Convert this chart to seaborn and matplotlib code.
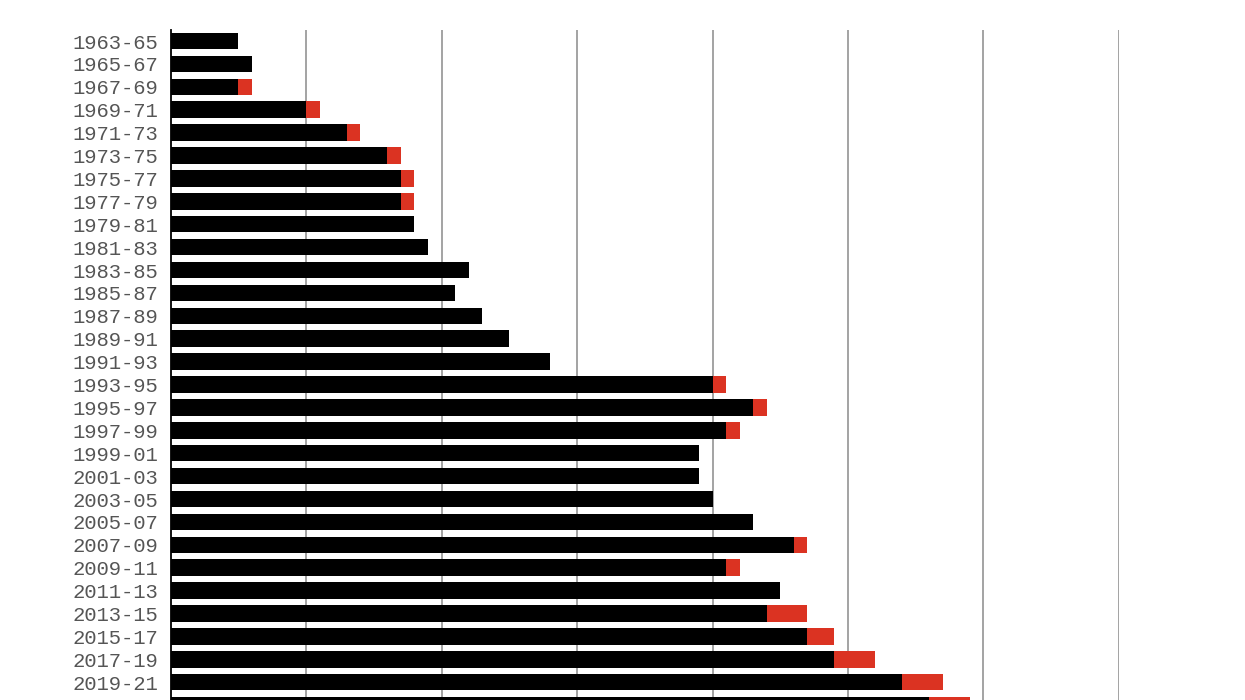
import numpy as np
import pandas as pd
import matplotlib
matplotlib.use("Agg")
import matplotlib.pyplot as plt
import seaborn as sns

# 数据：每两年一段，黑色为主值，红色为附加部分
periods = ["1963-65", "1965-67", "1967-69", "1969-71", "1971-73", "1973-75",
           "1975-77", "1977-79", "1979-81", "1981-83", "1983-85", "1985-87",
           "1987-89", "1989-91", "1991-93", "1993-95", "1995-97", "1997-99",
           "1999-01", "2001-03", "2003-05", "2005-07", "2007-09", "2009-11",
           "2011-13", "2013-15", "2015-17", "2017-19", "2019-21", "2021-23"]
black_vals = [5, 6, 5, 10, 13, 16, 17, 17, 18, 19, 22, 21, 23, 25, 28,
              40, 43, 41, 39, 39, 40, 43, 46, 41, 45, 44, 47, 49, 54, 56]
red_vals = [0, 0, 1, 1, 1, 1, 1, 1, 0, 0, 0, 0, 0, 0, 0,
            1, 1, 1, 0, 0, 0, 0, 1, 1, 0, 3, 2, 3, 3, 3]

df = pd.DataFrame({"period": periods, "black": black_vals, "red": red_vals})
df["total"] = df["black"] + df["red"]

sns.set_style("white")

fig = plt.figure(figsize=(12.45, 7), dpi=100)
# 图表在底部被裁切，坐标轴延伸到画布之外
ax = fig.add_axes([170.5 / 1245, -0.0269, (1119 - 170.5) / 1245, 0.984])

# 先画总长（红色），再覆盖黑色部分
sns.barplot(data=df, x="total", y="period", orient="h", color="#db3322",
            width=0.72, linewidth=0, saturation=1, ax=ax, zorder=3)
sns.barplot(data=df, x="black", y="period", orient="h", color="black",
            width=0.72, linewidth=0, saturation=1, ax=ax, zorder=4)

ax.set_xlim(0, 70)
ax.set_ylim(29.6, -0.48)
ax.set_xticks(np.arange(10, 71, 10))
ax.xaxis.grid(True, color="#8a8a8a", linewidth=1.1, zorder=0)
ax.yaxis.grid(False)
ax.set_axisbelow(True)
ax.tick_params(axis="x", labelbottom=False, length=0)
ax.tick_params(axis="y", length=0, pad=9)
for lab in ax.get_yticklabels():
    lab.set_fontfamily("Liberation Mono")
    lab.set_fontsize(14.8)
    lab.set_color("#555555")
ax.set_xlabel("")
ax.set_ylabel("")

for side in ["top", "right", "bottom"]:
    ax.spines[side].set_visible(False)
ax.spines["left"].set_color("black")
ax.spines["left"].set_linewidth(1.3)
ax.spines["left"].set_zorder(5)

fig.savefig("out.png", dpi=100)
